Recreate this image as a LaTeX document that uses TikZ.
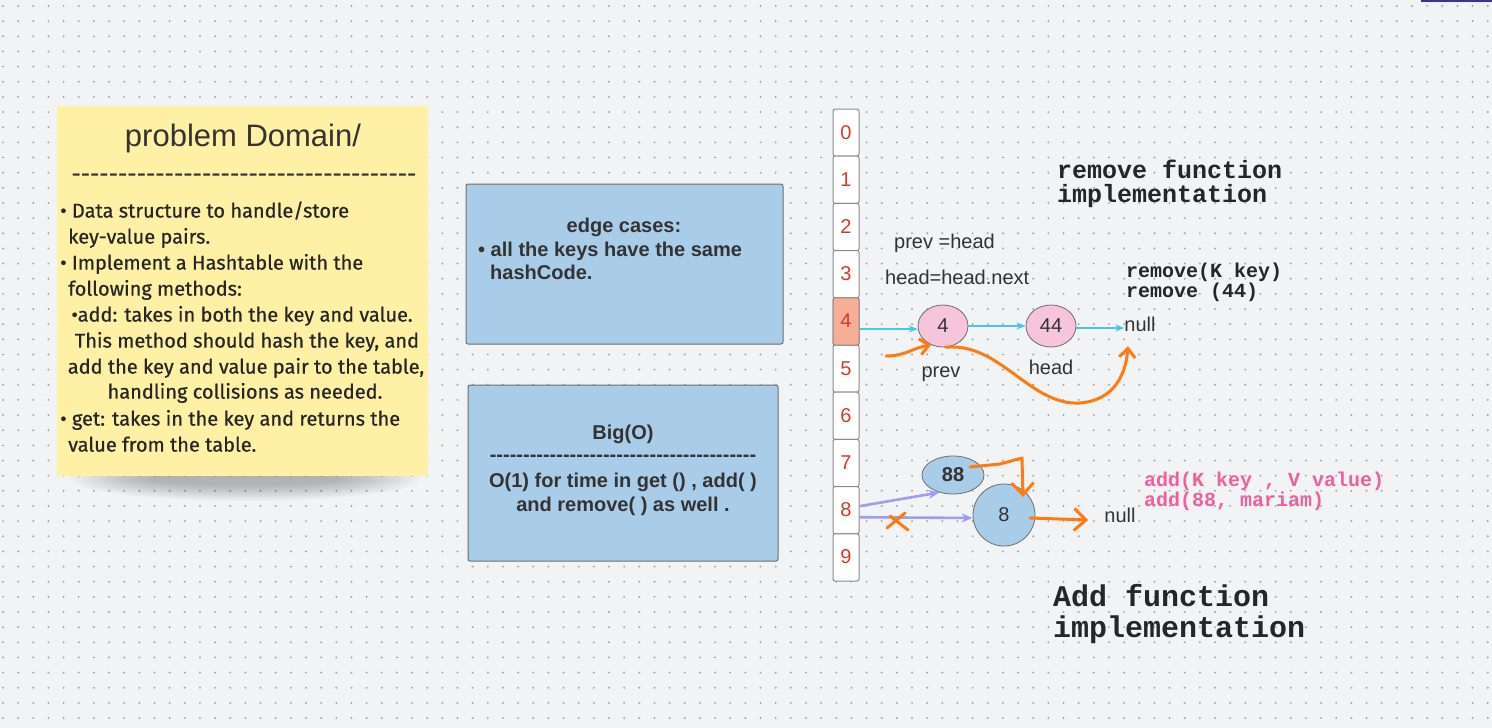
\documentclass[tikz,border=0pt]{standalone}
\usepackage{fontspec}
\setmainfont{Liberation Sans}
\newfontfamily\handf{Fira Sans}[FakeBold=0.6]
\newfontfamily\monof{Liberation Mono}
\usetikzlibrary{arrows.meta,calc,shapes.geometric}
\definecolor{bgc}{HTML}{F2F3F5}
\definecolor{dotc}{HTML}{A3A7AE}
\definecolor{notec}{HTML}{FEF0A5}
\definecolor{boxc}{HTML}{A9CCE9}
\definecolor{bordc}{HTML}{6E6E6E}
\definecolor{pinkc}{HTML}{F6C5DC}
\definecolor{salmc}{HTML}{F7AE96}
\definecolor{redc}{HTML}{D33B2C}
\definecolor{cyanc}{HTML}{4CC4E6}
\definecolor{orc}{HTML}{FF7B12}
\definecolor{purc}{HTML}{A09CF2}
\definecolor{pinkt}{HTML}{F0609C}
\definecolor{txt}{HTML}{333333}
\newcommand\dashline[1]{\foreach \j in {1,...,#1}{-\kern0pt}}
\begin{document}
\begin{tikzpicture}[x=1pt,y=-1pt,
  txtn/.style={inner sep=0pt, text=txt},
  handtxt/.style={txtn, anchor=west, font=\handf\fontsize{20}{22}\selectfont, text height=15.6pt, text depth=4.4pt, text=black!85},
  handc/.style={handtxt, anchor=center},
  boldtxt/.style={txtn, font=\bfseries\fontsize{20}{22}\selectfont, text height=15pt, text depth=5pt},
  regtxt/.style={txtn, font=\fontsize{20}{22}\selectfont, text height=15pt, text depth=5pt},
  monotxt/.style={txtn, anchor=west, font=\monof\bfseries\fontsize{20}{22}\selectfont, text=black!85, text height=15.6pt, text depth=4.4pt},
  bigmono/.style={txtn, anchor=west, font=\monof\bfseries\fontsize{25}{25}\selectfont, text=black!85, text height=19.5pt, text depth=5.5pt},
  hugemono/.style={txtn, anchor=west, font=\monof\bfseries\fontsize{30}{30}\selectfont, text=black!85, text height=23.4pt, text depth=6.6pt},
  bluebox/.style={draw=bordc, fill=boxc, line width=1pt, rounded corners=2pt, inner sep=0pt},
  cellbox/.style={draw=bordc!80, fill=white, line width=1pt, rounded corners=2pt, minimum width=26pt, minimum height=47.2pt, inner sep=0pt, text=redc, font=\fontsize{20}{22}\selectfont, text height=14pt, text depth=1pt},
  pinknode/.style={ellipse, draw=bordc, fill=pinkc, line width=0.8pt, minimum width=50pt, minimum height=42pt, inner sep=0pt, text=txt, font=\fontsize{20}{22}\selectfont},
  bluenode/.style={ellipse, draw=bordc, fill=boxc, line width=0.8pt, inner sep=0pt, text=txt, font=\fontsize{20}{22}\selectfont},
  cyanarrow/.style={draw=cyanc, line width=1.4pt, -{Stealth[length=9pt,width=7pt]}},
  orarrow/.style={draw=orc, line width=3pt, line cap=round, line join=round, -{Straight Barb[length=9pt,width=16pt,line width=3pt]}},
  orbig/.style={orarrow, -{Straight Barb[length=12pt,width=22pt,line width=3pt]}},
  purarrow/.style={draw=purc, line width=2.6pt, -{Stealth[length=11pt,width=9pt]}},
  orstroke/.style={draw=orc, line width=3pt, line cap=round}
]
\useasboundingbox (0,0) rectangle (1492,728);
\fill[bgc] (0,0) rectangle (1492,728);
\foreach \k in {0,...,47}
  \draw[dotc, line width=2.2pt, line cap=round, dash pattern=on 0pt off 15.15pt] (3,{6+15.15*\k}) -- (1492,{6+15.15*\k});
\fill[blue!50!black!80] (1421,0) rectangle (1492,1.5);

% ---------- note ----------
\foreach \i in {0,...,13}
  \fill[black, opacity=0.018] (245,479) ellipse ({175-6*\i} and {22-1.2*\i});
\node[fill=notec, minimum width=371pt, minimum height=370pt, inner sep=0pt] (note) at (242.5,291) {};
\node[txtn, font=\fontsize{31}{33}\selectfont, text height=24.2pt, text depth=6.8pt] (ttl) at (243,138) {problem Domain/};
\node[txtn, font=\fontsize{28}{30}\selectfont] (dsh) at (244,178) {\dashline{37}};
\node[handtxt] (l1) at (60,212) {• Data structure to handle/store};
\node[handtxt] (l2) at (68,238) {key-value pairs.};
\node[handtxt] (l3) at (60,264) {• Implement a Hashtable with the};
\node[handtxt] (l4) at (68,290) {following methods:};
\node[handc] (l5) at (242,316) {•add: takes in both the key and value.};
\node[handc] (l6) at (247,342) {This method should hash the key, and};
\node[handc] (l7) at (246,368) {add the key and value pair to the table,};
\node[handc] (l8) at (245,393) {handling collisions as needed.};
\node[handtxt] (l9) at (60,420) {• get: takes in the key and returns the};
\node[handtxt] (l10) at (68,446) {value from the table.};

% ---------- boxes ----------
\node[bluebox, minimum width=317pt, minimum height=160pt] (edge) at (624.5,264) {};
\node[boldtxt] (e1) at (624,227) {edge cases:};
\node[boldtxt, anchor=west] (e2) at (478,251) {• all the keys have the same};
\node[boldtxt, anchor=west] (e3) at (490,274) {hashCode.};
\node[bluebox, minimum width=310pt, minimum height=176pt] (bigo) at (623,473) {};
\node[boldtxt] (b1) at (623,434) {Big(O)};
\node[txtn, font=\bfseries\fontsize{20}{22}\selectfont] (b2) at (623,458) {\dashline{40}};
\node[boldtxt] (b3) at (623,482) {O(1) for time in get () , add( )};
\node[boldtxt] (b4) at (623,506) {and remove( ) as well .};

% ---------- table ----------
\foreach \i in {0,...,9}
  \node[cellbox] (c\i) at (846,{109+23.6+47.2*\i}) {\i};
\node[cellbox, fill=salmc] (c4) at (846,{109+23.6+47.2*4}) {4};

% ---------- remove ----------
\node[regtxt, anchor=west] (pv) at (894,243) {prev =head};
\node[regtxt, anchor=west] (hh) at (885,279) {head=head.next};
\node[pinknode] (n4) at (943,326) {4};
\node[pinknode] (n44) at (1051,326) {44};
\node[regtxt] (null1) at (1140,326) {null};
\node[regtxt] (prevl) at (941,372) {prev};
\node[regtxt] (headl) at (1051,369) {head};
\draw[cyanarrow] (c4.east |- 0,329) -- (n4.west |- 0,329);
\draw[cyanarrow] (n4.east) -- (n44.west);
\draw[cyanarrow] (n44.east |- 0,328) -- (null1.west |- 0,328);
\coordinate (hk) at (886,356);
\draw[orarrow] (hk) .. controls (906,356) and (912,348) .. (n4.-122);
\draw[orarrow] (n4.-82) .. controls (1000,342) and (1030,406) .. (1080,403)
   .. controls (1116,400) and (1126,372) .. ($(null1.south)+(-12,10)$);
\node[bigmono] (rt1) at (1057,171) {remove function};
\node[bigmono] (rt2) at (1057,195) {implementation};
\node[monotxt] (rk1) at (1126,272) {remove(K key)};
\node[monotxt] (rk2) at (1126,292) {remove (44)};

% ---------- add ----------
\node[bluenode, minimum width=62pt, minimum height=38pt] (n88) at (953,475) {\bfseries 88};
\node[bluenode, circle, minimum size=62pt] (n8) at (1004,515) {8};
\node[regtxt] (null2) at (1120,517) {null};
\path (c8.east) ++(0,-4) coordinate (p1);
\path (c8.east) ++(0,7) coordinate (p2);
\draw[purarrow] (p1) -- (n88.-128);
\draw[purarrow] (p2) -- (n8.west |- 0,518);
\draw[orstroke] (887,528) -- (905,513);
\draw[orstroke] (890,516) -- (908,530);
\draw[orbig] ($(n88)+(17,-8)$) -- ++(30,-3) -- ++(22,-6) -- ++(1,39);
\draw[orbig] ($(n8)+(26,3)$) -- ($(null2.west)+(-16,3)$);
\node[monotxt, text=pinkt] (ak1) at (1144,481) {add(K key , V value)};
\node[monotxt, text=pinkt] (ak2) at (1144,501) {add(88, mariam)};
\node[hugemono] (at1) at (1053,598) {Add function};
\node[hugemono] (at2) at (1053,629) {implementation};
\end{tikzpicture}
\end{document}
